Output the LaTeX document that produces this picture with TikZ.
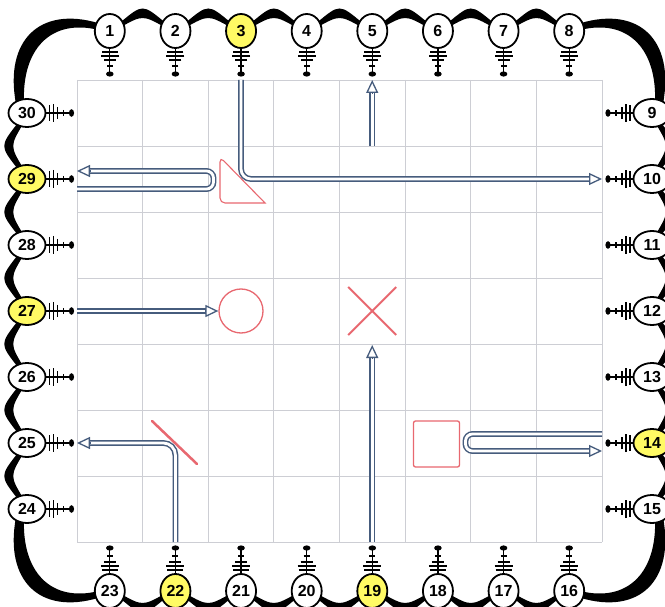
\documentclass[tikz,border=0pt]{standalone}
\usepackage{fontspec}
\setmainfont{Liberation Sans}
\usetikzlibrary{arrows.meta,shapes.geometric,shapes.misc,calc}

\definecolor{conncol}{RGB}{70,92,125}
\definecolor{mirrorred}{RGB}{232,104,112}
\definecolor{lampyellow}{RGB}{255,250,100}
\definecolor{gridgray}{RGB}{205,206,212}

\tikzset{
  lampbase/.style={draw=black, line width=1.8pt, shape=ellipse, inner sep=0pt,
    font=\fontsize{16}{16}\selectfont\bfseries},
  lampv/.style={lampbase, minimum width=30pt, minimum height=34pt},
  lamph/.style={lampbase, minimum width=37pt, minimum height=28pt},
  beam/.style={draw=conncol, double=white, double distance=2.8pt, line width=1.5pt},
  beamtip/.style={draw=conncol, line width=1.3pt,
    -{Triangle[open, length=13pt, width=12pt, fill=white]}},
  optic/.style={draw=mirrorred, line width=1.3pt},
  gridline/.style={draw=gridgray, line width=0.9pt},
  lampstem/.pic={
    \draw[line width=1.3pt] (0,0) -- (26,0);
    \draw[line width=1.6pt] (4,-8) -- (4,8);
    \draw[line width=1.6pt] (8,-9) -- (8,9);
    \draw[line width=1.6pt] (12,-6) -- (12,6);
    \draw[line width=1.3pt] (18,-3) -- (18,3);
    \fill (26,0) ellipse [x radius=2.6pt, y radius=3.8pt];
  }
}

% pieces of the scalloped frame (top-left quadrant geometry)
\newcommand\brdCorner{%
  \fill (16,104) .. controls (4,40) and (40,6) .. (98,23) -- (99,30)
        .. controls (50,18) and (22,50) .. (24,102) -- cycle;}
\newcommand\brdTop{%
  \brdCorner
  \begin{scope}[shift={(679,0)}, xscale=-1]\brdCorner\end{scope}
  \foreach \i [evaluate=\i as \xa using 77+65.625*(\i-0.5),
               evaluate=\i as \xb using 77+65.625*(\i+0.5)] in {1,...,7}{
    \fill ({\xa+11},22) .. controls ({(\xa+\xb)/2},4) .. ({\xb-11},22)
          -- ({\xb-11},27) .. controls ({(\xa+\xb)/2},15) .. ({\xa+11},27) -- cycle;
  }}
\newcommand\brdLeft{%
  \foreach \j [evaluate=\j as \ya using 80+66*(\j-0.5),
               evaluate=\j as \yb using 80+66*(\j+0.5)] in {1,...,6}{
    \fill (17,{\ya+11}) .. controls (0,{(\ya+\yb)/2}) .. (17,{\yb-11})
          -- (23,{\yb-11}) .. controls (10,{(\ya+\yb)/2}) .. (23,{\ya+11}) -- cycle;
  }}

\begin{document}
\begin{tikzpicture}[x=1pt, y=-1pt]
\useasboundingbox (0,0) rectangle (665,607);
\clip (0,0) rectangle (665,607);
\fill[white] (0,0) rectangle (665,607);

% grid
\foreach \i in {0,...,8}
  \draw[gridline] ({77+65.625*\i},80) -- ({77+65.625*\i},542);
\foreach \j in {0,...,7}
  \draw[gridline] (77,{80+66*\j}) -- (602,{80+66*\j});

% optical elements
\draw[optic, line width=1.1pt] (265,203) [rounded corners=5pt] -- (220,203) -- (220,157) [sharp corners] -- cycle;
\node[optic, circle, minimum size=44pt, inner sep=0pt] (circ) at (241,311) {};
\node[optic, cross out, minimum size=46pt, inner sep=0pt, line width=2pt] (xmark) at (372.2,311) {};
\node[optic, rectangle, rounded corners=2pt, minimum size=46pt, inner sep=0pt] (sq) at (436.5,444) {};
\draw[optic, line width=2.5pt, line cap=round] (152,421) -- (197,464);

% beam end points on the grid edge
\coordinate (g3)   at (241,80);
\coordinate (g10)  at (602,179);
\coordinate (s29)  at (77,189);
\coordinate (g29)  at (77,171);
\coordinate (s5)   at (372.2,146);
\coordinate (g5)   at (372.2,80);
\coordinate (g27)  at (77,311);
\coordinate (g19)  at (372.2,542);
\coordinate (hitx) at (372.2,345);
\coordinate (g22)  at (175.4,542);
\coordinate (g25)  at (77,443);
\coordinate (s14)  at (602,434);
\coordinate (g14)  at (602,451);

% beams
\draw[beam, rounded corners=10pt, shorten >=12pt] (g3) |- (g10);
\draw[beamtip] ($(g10)+(-13,0)$) -- (g10);

\draw[beam, rounded corners=7pt, shorten >=12pt] (s29) -- (213.5,189) -- (213.5,171) -- (g29);
\draw[beamtip] ($(g29)+(13,0)$) -- (g29);

\draw[beam, shorten >=12pt] (s5) -- (g5);
\draw[beamtip] ($(g5)+(0,13)$) -- (g5);

\draw[beam, shorten >=12pt] (g27) -- (circ.west);
\draw[beamtip] ($(circ.west)+(-13,0)$) -- (circ.west);

\draw[beam, shorten >=12pt] (g19) -- (hitx);
\draw[beamtip] ($(hitx)+(0,13)$) -- (hitx);

\draw[beam, rounded corners=12pt, shorten >=12pt] (g22) |- (g25);
\draw[beamtip] ($(g25)+(13,0)$) -- (g25);

\draw[beam, rounded corners=7pt, shorten >=12pt] (s14) -- (465.5,434) -- (465.5,451) -- (g14);
\draw[beamtip] ($(g14)+(-13,0)$) -- (g14);

% scalloped frame
\brdTop
\begin{scope}[shift={(0,621)}, yscale=-1]\brdTop\end{scope}
\brdLeft
\begin{scope}[shift={(679,0)}, xscale=-1]\brdLeft\end{scope}

% top lamps 1-8
\foreach \n/\f in {1/white,2/white,3/lampyellow,4/white,5/white,6/white,7/white,8/white}{
  \pic[rotate=-90] at ({77+65.625*(\n-0.5)},48) {lampstem};
  \node[lampv, fill=\f] (L\n) at ({77+65.625*(\n-0.5)},31) {\n};
}
% right lamps 9-15
\foreach \n/\f in {9/white,10/white,11/white,12/white,13/white,14/lampyellow,15/white}{
  \pic[rotate=180] at (634,{80+66*(\n-8.5)}) {lampstem};
  \node[lamph, fill=\f] (L\n) at (652,{80+66*(\n-8.5)}) {\n};
}
% bottom lamps 16-23
\foreach \n/\f in {16/white,17/white,18/white,19/lampyellow,20/white,21/white,22/lampyellow,23/white}{
  \pic[rotate=90] at ({77+65.625*(23.5-\n)},574) {lampstem};
  \node[lampv, fill=\f] (L\n) at ({77+65.625*(23.5-\n)},591) {\n};
}
% left lamps 24-30
\foreach \n/\f in {24/white,25/white,26/white,27/lampyellow,28/white,29/lampyellow,30/white}{
  \pic at (45.5,{80+66*(30.5-\n)}) {lampstem};
  \node[lamph, fill=\f] (L\n) at (27,{80+66*(30.5-\n)}) {\n};
}
\end{tikzpicture}
\end{document}
